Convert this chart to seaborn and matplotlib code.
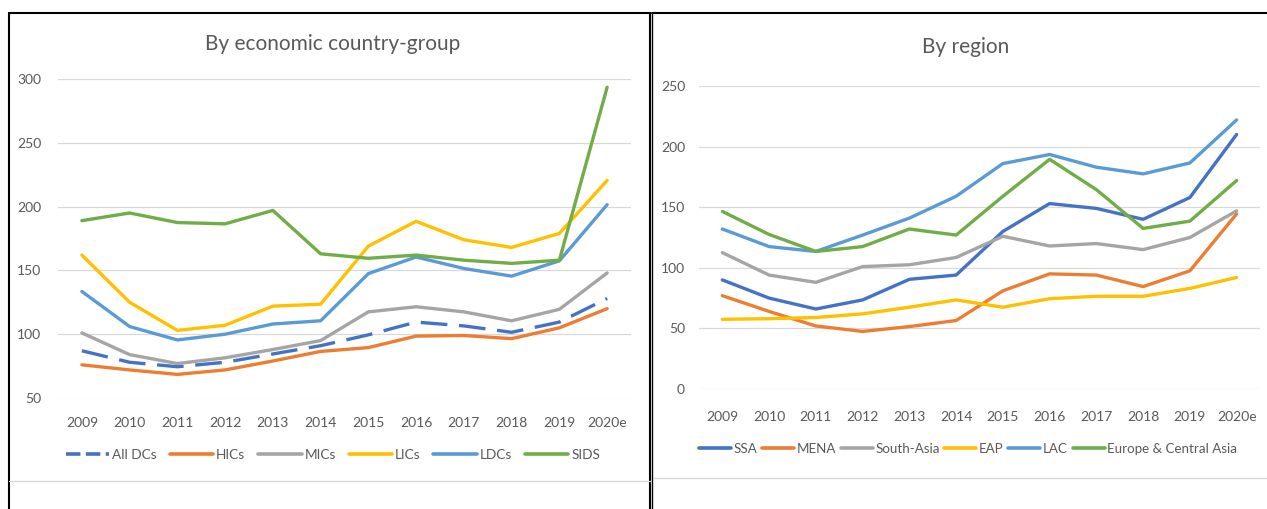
import matplotlib.pyplot as plt
import matplotlib.lines as mlines
import pandas as pd
import seaborn as sns

# Data
years = ['2009', '2010', '2011', '2012', '2013', '2014', '2015', '2016', '2017', '2018', '2019', '2020e']

econ_names = ['All DCs', 'HICs', 'MICs', 'LICs', 'LDCs', 'SIDS']
all_dcs = [87, 78, 74.5, 78, 84.5, 91, 99.5, 109.5, 106.5, 101.5, 109.5, 128]
hics = [76, 72, 68.5, 72, 79, 86.5, 89.5, 98.5, 99, 96.5, 105, 120]
mics = [101, 84, 77, 81.5, 88, 95, 117.5, 121.5, 117.5, 110.5, 119.5, 148]
lics = [162, 125, 103, 107, 122, 123.5, 169, 188.5, 174, 168, 179, 220.5]
ldcs = [133.5, 106, 95.5, 100, 108, 110.5, 147.5, 160.5, 151.5, 145.5, 157.5, 201.5]
sids = [189, 195, 187.5, 186.5, 197, 163, 159.5, 162, 158, 155.5, 158, 293.5]

region_names = ['SSA', 'MENA', 'South-Asia', 'EAP', 'LAC', 'Europe & Central Asia']
ssa = [90, 75, 66, 73.5, 90.5, 94, 130, 153, 149, 140, 158, 210]
mena = [77, 64, 52, 47.5, 51.5, 56.5, 81, 95, 94, 84.5, 97.5, 144.5]
south_asia = [112.5, 94, 88, 101, 102.5, 108.5, 126, 118, 120, 115, 125, 147]
eap = [57.5, 58, 59, 62, 67.5, 73.5, 67.5, 74.5, 76.5, 76.5, 83, 92]
lac = [132, 117.5, 113.5, 127, 141, 159, 186, 193.5, 183, 177.5, 186.5, 222]
eca = [146.5, 127.5, 113.5, 117.5, 132, 127, 159, 189.5, 164.5, 132.5, 138.5, 172]

colors = ['#4472C4', '#ED7D31', '#A5A5A5', '#FFC000', '#5B9BD5', '#70AD47']
text_col = '#595959'

sns.set_theme(style='white')
plt.rcParams['font.family'] = ['Lato', 'DejaVu Sans']


def long_df(names, series):
    rows = []
    for n, vals in zip(names, series):
        for y, v in zip(years, vals):
            rows.append({'year': y, 'value': v, 'series': n})
    return pd.DataFrame(rows)


df_econ = long_df(econ_names, [all_dcs, hics, mics, lics, ldcs, sids])
df_reg = long_df(region_names, [ssa, mena, south_asia, eap, lac, eca])

fig = plt.figure(figsize=(12.67, 5.09), dpi=100)
W, H = 1267, 509


def px_axes(x0, x1, ytop, ybot):
    return fig.add_axes([x0 / W, 1 - ybot / H, (x1 - x0) / W, (ybot - ytop) / H])


ax1 = px_axes(58, 631, 79, 398)
ax2 = px_axes(699, 1260, 86, 389)


def draw(ax, df, names, ylim, yticks, dashes, title, title_xy, leg_x, leg_y,
         leg_fs, hlen, colsp, xpad, ypad):
    sns.lineplot(data=df, x='year', y='value', hue='series', style='series',
                 hue_order=names, style_order=names, palette=colors,
                 dashes=dashes, linewidth=2.4, sort=False, legend=False, ax=ax)
    ax.set_xlim(-0.5, len(years) - 0.5)
    ax.set_ylim(*ylim)
    ax.set_yticks(yticks)
    ax.set_xlabel('')
    ax.set_ylabel('')
    ax.grid(axis='y', color='#D9D9D9', linewidth=0.9)
    ax.set_axisbelow(True)
    for s in ax.spines.values():
        s.set_visible(False)
    ax.tick_params(axis='x', length=0, pad=xpad, labelsize=10, labelcolor=text_col)
    ax.tick_params(axis='y', length=0, pad=ypad, labelsize=10, labelcolor=text_col)
    ax.set_facecolor('none')
    handles = []
    for i, n in enumerate(names):
        ls = (0, (4, 1.5)) if dashes[n] != '' else '-'
        handles.append(mlines.Line2D([], [], color=colors[i], linewidth=2.6, linestyle=ls))
    fig.legend(handles, names, loc='center', bbox_to_anchor=(leg_x / W, 1 - leg_y / H),
               ncol=len(names), frameon=False, fontsize=leg_fs, labelcolor=text_col,
               handlelength=hlen, handletextpad=0.2, columnspacing=colsp)
    fig.text(title_xy[0] / W, 1 - title_xy[1] / H, title, ha='center', va='center',
             fontsize=15, color=text_col)


econ_dashes = {n: '' for n in econ_names}
econ_dashes['All DCs'] = (8, 3.5)
reg_dashes = {n: '' for n in region_names}

draw(ax1, df_econ, econ_names, (50, 300), [50, 100, 150, 200, 250, 300], econ_dashes,
     'By economic country-group', (333, 44), 333, 455, 9.8, 3.2, 0.95, 14, 12)
draw(ax2, df_reg, region_names, (0, 250), [0, 50, 100, 150, 200, 250], reg_dashes,
     'By region', (966, 47), 968, 449, 9.6, 2.4, 0.35, 16, 10)

# frame lines of the surrounding table and chart borders
def fline(xs, ys, color, lw):
    fig.add_artist(mlines.Line2D([x / W for x in xs], [1 - y / H for y in ys],
                                 color=color, linewidth=lw, transform=fig.transFigure))


fline([9, 9], [13, 509], 'black', 1.5)
fline([9, 650], [13, 13], 'black', 1.5)
fline([650, 650], [13, 509], 'black', 1.5)
fline([652, 1267], [13, 13], 'black', 1.5)
fline([652, 652], [13, 509], 'black', 1.0)
fline([9, 650], [481, 481], '#D9D9D9', 1.0)
fline([654, 1267], [478, 478], '#D9D9D9', 1.0)

fig.savefig('out.png', dpi=100)
